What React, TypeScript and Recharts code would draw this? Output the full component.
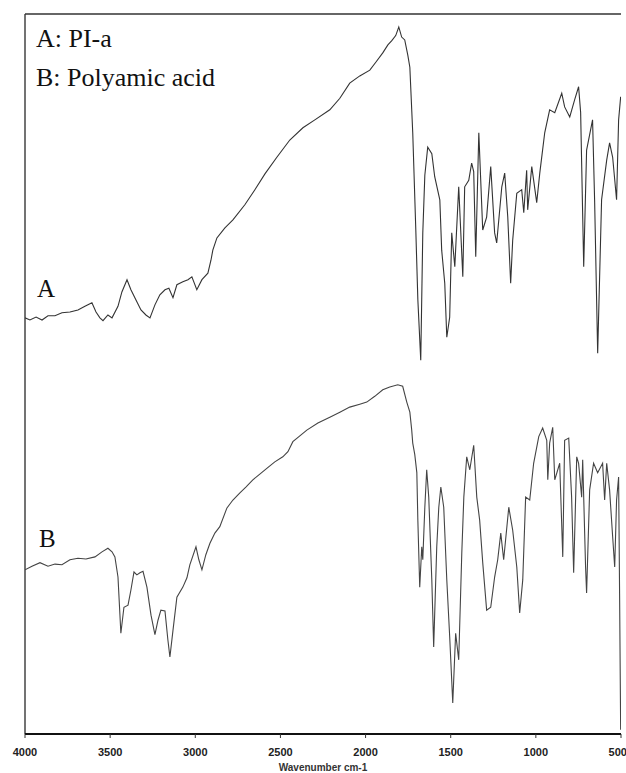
import { LineChart, Line, XAxis, YAxis, ReferenceLine } from "recharts";

// wavenumber (cm-1) and transmittance (arbitrary %, 0 = axis)
const wavenumberA = [
  4000, 3971, 3935, 3900, 3865, 3824, 3783, 3736, 3689, 3648,
  3607, 3583, 3560, 3542, 3513, 3489, 3454, 3431, 3401, 3378,
  3349, 3319, 3290, 3266, 3237, 3208, 3178, 3155, 3131, 3108,
  3073, 3043, 3020, 2991, 2961, 2926, 2908, 2897, 2873, 2826,
  2779, 2709, 2650, 2591, 2521, 2445, 2368, 2298, 2210, 2151,
  2093, 2034, 1975, 1940, 1899, 1869, 1846, 1823, 1805, 1788,
  1770, 1752, 1740, 1723, 1705, 1693, 1676, 1664, 1652, 1635,
  1611, 1594, 1564, 1553, 1535, 1523, 1506, 1494, 1476, 1453,
  1429, 1418, 1394, 1377, 1365, 1353, 1335, 1312, 1289, 1265,
  1242, 1230, 1200, 1183, 1165, 1148, 1136, 1112, 1083, 1071,
  1054, 1048, 1024, 995, 977, 948, 919, 889, 848, 831,
  801, 772, 749, 737, 719, 702, 667, 655, 637, 614,
  584, 567, 549, 526, 514, 502,
];
const transA = [
  57.8, 57.5, 57.9, 57.5, 58.1, 58.1, 58.5, 58.6, 58.9, 59.4,
  59.9, 58.6, 57.8, 57.4, 58.2, 57.8, 59.4, 61.4, 63.1, 61.7,
  60.3, 58.9, 58.2, 57.8, 59.6, 61.0, 61.7, 61.9, 60.6, 62.4,
  62.8, 63.1, 63.5, 61.7, 63.1, 64.0, 65.8, 67.2, 68.9, 70.3,
  71.4, 73.5, 75.6, 77.8, 80.1, 82.5, 84.2, 85.3, 86.7, 88.3,
  90.4, 91.4, 92.2, 93.3, 94.6, 95.7, 96.3, 97.0, 98.2, 96.8,
  96.4, 94.3, 92.6, 83.5, 70.0, 60.3, 51.9, 69.6, 77.6, 81.5,
  80.6, 77.4, 74.2, 67.2, 62.6, 55.1, 57.9, 69.6, 64.9, 76.0,
  63.5, 76.0, 76.9, 79.3, 78.1, 66.3, 83.5, 70.0, 71.8, 78.8,
  69.6, 68.2, 76.0, 77.9, 71.8, 62.6, 68.6, 75.1, 75.6, 72.4,
  78.3, 72.8, 78.8, 73.8, 77.9, 83.5, 86.7, 86.3, 89.0, 87.1,
  85.7, 88.1, 89.9, 86.3, 64.9, 81.1, 85.3, 74.2, 52.9, 74.2,
  79.7, 82.1, 80.1, 74.2, 85.3, 88.5,
];

const wavenumberB = [
  4000, 3959, 3912, 3865, 3824, 3783, 3736, 3689, 3642, 3589,
  3548, 3513, 3489, 3472, 3454, 3437, 3419, 3395, 3378, 3360,
  3343, 3325, 3307, 3284, 3260, 3237, 3219, 3202, 3178, 3161,
  3149, 3131, 3108, 3073, 3049, 3032, 2996, 2979, 2961, 2938,
  2914, 2885, 2856, 2814, 2779, 2738, 2703, 2662, 2621, 2580,
  2533, 2486, 2456, 2427, 2386, 2345, 2280, 2210, 2151, 2093,
  2034, 1993, 1946, 1899, 1858, 1811, 1782, 1758, 1740, 1729,
  1723, 1711, 1699, 1693, 1682, 1670, 1664, 1652, 1641, 1629,
  1611, 1600, 1582, 1570, 1558, 1541, 1523, 1506, 1488, 1471,
  1453, 1435, 1423, 1406, 1388, 1365, 1347, 1330, 1312, 1289,
  1265, 1242, 1224, 1206, 1189, 1159, 1136, 1112, 1095, 1077,
  1060, 1036, 1013, 983, 960, 936, 930, 919, 901, 889,
  860, 842, 831, 807, 790, 778, 760, 749, 731, 725,
  708, 702, 684, 661, 637, 608, 596, 584, 567, 549,
  537, 526, 514, 508, 502,
];
const transB = [
  22.8, 23.3, 23.8, 23.3, 23.6, 23.5, 24.2, 24.4, 24.3, 24.6,
  25.3, 25.8, 25.3, 24.6, 21.8, 14.0, 17.6, 17.9, 20.0, 22.5,
  22.1, 22.4, 22.6, 20.4, 16.5, 13.8, 15.8, 17.2, 17.1, 13.1,
  10.7, 14.4, 19.0, 20.4, 21.7, 23.5, 26.0, 24.2, 22.8, 24.9,
  26.5, 27.9, 28.8, 31.4, 32.5, 33.5, 34.3, 35.3, 36.1, 36.9,
  37.8, 38.5, 39.2, 40.6, 41.4, 42.2, 43.2, 44.0, 44.7, 45.4,
  45.8, 46.1, 46.9, 47.8, 48.2, 48.5, 48.3, 46.1, 44.7, 42.2,
  40.4, 38.8, 36.3, 29.7, 20.4, 26.0, 24.2, 31.5, 36.7, 32.9,
  21.4, 12.1, 26.0, 31.5, 34.3, 31.5, 21.4, 13.5, 4.3, 14.0,
  10.3, 25.1, 32.9, 38.5, 36.7, 40.1, 32.9, 29.7, 23.8, 17.2,
  17.6, 21.8, 24.2, 27.9, 24.2, 31.5, 28.3, 23.2, 16.8, 21.4,
  32.9, 32.5, 37.6, 41.3, 42.5, 40.8, 35.3, 40.4, 42.6, 35.3,
  37.6, 24.6, 40.8, 41.1, 32.9, 22.4, 38.5, 37.6, 32.9, 38.1,
  23.2, 19.6, 33.9, 37.6, 36.3, 37.6, 32.5, 37.6, 33.9, 27.4,
  23.2, 32.5, 35.7, 18.6, 0.6,
];

const xTicks = [4000, 3500, 3000, 2500, 2000, 1500, 1000, 500];
const legendLines = ["A: PI-a", "B: Polyamic acid"];

const seriesA = wavenumberA.map((wn, i) => ({ wn, t: transA[i] }));
const seriesB = wavenumberB.map((wn, i) => ({ wn, t: transB[i] }));

const serif = "'Liberation Serif', 'Times New Roman', serif";
const sans = "'Liberation Sans', Arial, sans-serif";

export default function App() {
  return (
    <div style={{ position: "absolute", left: 0, top: 0, width: 626, height: 773, background: "#fff" }}>
      <LineChart width={626} height={773} margin={{ top: 14, right: 5, bottom: 0, left: 25 }}>
        <XAxis
          type="number"
          dataKey="wn"
          domain={[500, 4000]}
          reversed
          ticks={xTicks}
          allowDataOverflow
          height={39}
          tickSize={4}
          tickMargin={10}
          axisLine={{ stroke: "#111", strokeWidth: 2 }}
          tickLine={{ stroke: "#333" }}
          tick={{ fill: "#222", fontSize: 11, fontWeight: "bold", fontFamily: sans }}
          label={{
            value: "Wavenumber cm-1",
            position: "insideBottom",
            offset: 2,
            fontSize: 10,
            fontWeight: "bold",
            fill: "#333",
            fontFamily: sans,
          }}
        />
        <YAxis type="number" domain={[0, 100]} hide />
        <ReferenceLine x={4000} stroke="#444" strokeWidth={1.5} />
        <ReferenceLine y={100} stroke="#333" strokeWidth={1.5} />
        <Line data={seriesA} dataKey="t" type="linear" stroke="#333" strokeWidth={1.1} dot={false} isAnimationActive={false} />
        <Line data={seriesB} dataKey="t" type="linear" stroke="#444" strokeWidth={1.1} dot={false} isAnimationActive={false} />
      </LineChart>
      <svg width={626} height={773} style={{ position: "absolute", left: 0, top: 0, pointerEvents: "none" }}>
        <text x={36} y={47} fontSize={26} fontFamily={serif} fill="#111">{legendLines[0]}</text>
        <text x={36} y={86} fontSize={26} fontFamily={serif} fill="#111">{legendLines[1]}</text>
        <text x={37} y={297} fontSize={25} fontFamily={serif} fill="#111">A</text>
        <text x={39} y={547} fontSize={25} fontFamily={serif} fill="#111">B</text>
      </svg>
    </div>
  );
}
